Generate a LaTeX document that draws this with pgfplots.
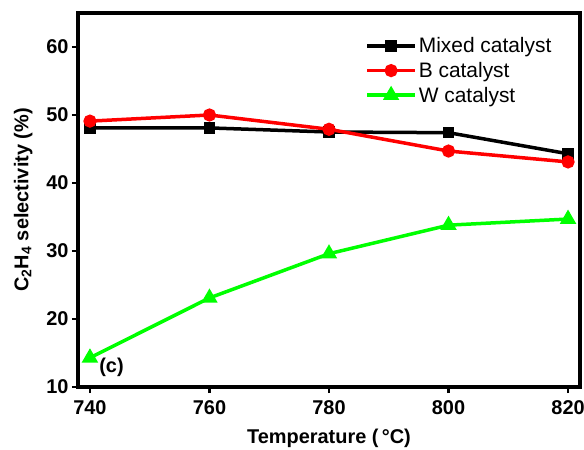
\documentclass[border=0pt]{standalone}
\usepackage{fontspec}
\setmainfont{Liberation Sans}
\usepackage{pgfplots}
\pgfplotsset{compat=1.18}
\definecolor{mygreen}{RGB}{0,255,0}
\begin{document}
\begin{tikzpicture}
\useasboundingbox (-78bp,-63bp) rectangle (506bp,387bp);
\begin{axis}[
  scale only axis,
  width=502bp, height=374bp,
  xmin=738, xmax=822, ymin=10, ymax=65,
  xtick={740,760,780,800,820},
  ytick={10,20,30,40,50,60},
  tick align=outside,
  tick pos=left,
  major tick length=6bp,
  every tick/.style={line width=2.5bp, black},
  axis line style={line width=3.5bp},
  /pgf/number format/assume math mode=true,
  ticklabel style={font=\bfseries\fontsize{20}{24}\selectfont},
  xticklabel style={yshift=-4bp},
  xlabel={Temperature (\,°C)},
  ylabel={C\textsubscript{2}H\textsubscript{4} selectivity (\%)},
  label style={font=\bfseries\fontsize{20}{24}\selectfont},
  xlabel style={yshift=-8bp},
  ylabel style={yshift=7bp},
  legend style={draw=none, fill=none, at={(rel axis cs:0.572,0.94)}, anchor=north west,
    font=\fontsize{21}{25}\selectfont, row sep=4bp, inner sep=0pt},
  legend cell align=left,
  legend image code/.code={
    \draw[mark repeat=2,mark phase=2] plot coordinates {(0bp,0bp) (24bp,0bp) (48bp,0bp)};
  },
]
\addplot[black, line width=3.5bp, mark=square*, mark size=4bp, mark options={solid}]
  coordinates {(740,48.1) (760,48.1) (780,47.5) (800,47.4) (820,44.3)};
\addlegendentry{Mixed catalyst}
\addplot[red, line width=3.5bp, mark=*, mark size=4.8bp, mark options={solid}]
  coordinates {(740,49.1) (760,50.0) (780,47.9) (800,44.7) (820,43.1)};
\addlegendentry{B catalyst}
\addplot[mygreen, line width=3.5bp, mark=triangle*, mark size=6bp, mark options={solid}]
  coordinates {(740,14.3) (760,23.1) (780,29.6) (800,33.8) (820,34.7)};
\addlegendentry{W catalyst}
\node[font=\bfseries\fontsize{20}{24}\selectfont] at (axis cs:743.6,12.9) {(c)};
\end{axis}
\end{tikzpicture}
\end{document}
